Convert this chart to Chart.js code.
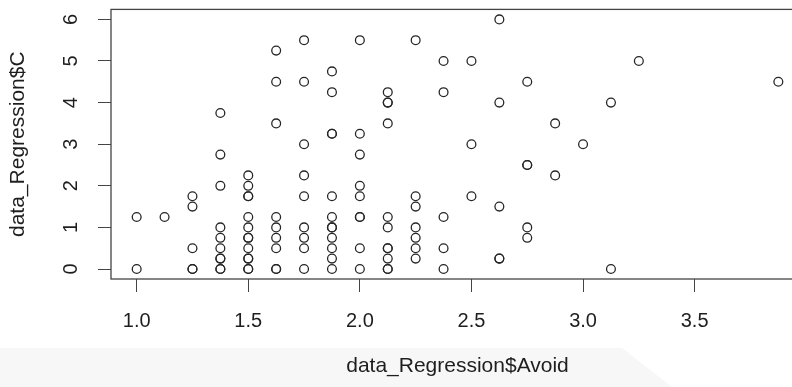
<!DOCTYPE html>
<html>
<head>
<meta charset="utf-8">
<script src="https://cdn.jsdelivr.net/npm/chart.js@4/dist/chart.umd.min.js"></script>
<style>
  html, body { margin: 0; padding: 0; background: #fff; overflow: hidden; }
  #wrap { width: 820px; height: 387px; }
</style>
</head>
<body>
<div id="wrap"><canvas id="scatter"></canvas></div>
<script>
// Avoid score (x) and C score (y), one entry per observation
const avoid = [
  1.0, 1.0,
  1.125,
  1.25, 1.25, 1.25, 1.25, 1.25,
  1.375, 1.375, 1.375, 1.375, 1.375, 1.375, 1.375, 1.375, 1.375, 1.375,
  1.5, 1.5, 1.5, 1.5, 1.5, 1.5, 1.5, 1.5, 1.5, 1.5, 1.5, 1.5, 1.5,
  1.625, 1.625, 1.625, 1.625, 1.625, 1.625, 1.625, 1.625, 1.625,
  1.75, 1.75, 1.75, 1.75, 1.75, 1.75, 1.75, 1.75, 1.75,
  1.875, 1.875, 1.875, 1.875, 1.875, 1.875, 1.875, 1.875, 1.875, 1.875, 1.875, 1.875,
  2.0, 2.0, 2.0, 2.0, 2.0, 2.0, 2.0, 2.0, 2.0,
  2.125, 2.125, 2.125, 2.125, 2.125, 2.125, 2.125, 2.125, 2.125, 2.125, 2.125,
  2.25, 2.25, 2.25, 2.25, 2.25, 2.25, 2.25,
  2.375, 2.375, 2.375, 2.375, 2.375,
  2.5, 2.5, 2.5,
  2.625, 2.625, 2.625, 2.625, 2.625,
  2.75, 2.75, 2.75, 2.75, 2.75,
  2.875, 2.875,
  3.0,
  3.125, 3.125,
  3.25,
  3.875
];
const cScore = [
  0, 1.25,
  1.25,
  0, 0, 0.5, 1.5, 1.75,
  0, 0, 0.25, 0.25, 0.5, 0.75, 1.0, 2.0, 2.75, 3.75,
  0, 0, 0.25, 0.25, 0.5, 0.75, 0.75, 1.0, 1.25, 1.75, 1.75, 2.0, 2.25,
  0, 0, 0.5, 0.75, 1.0, 1.25, 3.5, 4.5, 5.25,
  0, 0.5, 0.75, 1.0, 1.75, 2.25, 3.0, 4.5, 5.5,
  0, 0.25, 0.5, 0.75, 1.0, 1.0, 1.25, 1.75, 3.25, 3.25, 4.25, 4.75,
  0, 0.5, 1.25, 1.25, 1.75, 2.0, 2.75, 3.25, 5.5,
  0, 0, 0.25, 0.5, 0.5, 1.0, 1.25, 3.5, 4.0, 4.0, 4.25,
  0.25, 0.5, 0.75, 1.0, 1.5, 1.75, 5.5,
  0, 0.5, 1.25, 4.25, 5.0,
  1.75, 3.0, 5.0,
  0.25, 0.25, 1.5, 4.0, 6.0,
  0.75, 1.0, 2.5, 2.5, 4.5,
  2.25, 3.5,
  3.0,
  0, 4.0,
  5.0,
  4.5
];
const xTicks = [1.0, 1.5, 2.0, 2.5, 3.0, 3.5];
const yTicks = [0, 1, 2, 3, 4, 5, 6];
const xTitle = "data_Regression$Avoid";
const yTitle = "data_Regression$C";

const FONT = "'Liberation Sans', Arial, Helvetica, sans-serif";
const INK = "#444";
const TEXT = "#1e1e1e";

// base-graphics look: full box, rotated y labels, faint band at the bottom
const rStyle = {
  id: "rStyle",
  beforeDraw(chart) {
    const c = chart.ctx;
    c.save();
    c.fillStyle = "#f7f7f7";
    c.beginPath();
    c.moveTo(0, 348);
    c.lineTo(622, 348);
    c.lineTo(672, 387);
    c.lineTo(0, 387);
    c.closePath();
    c.fill();
    c.restore();
  },
  afterDraw(chart) {
    const c = chart.ctx;
    const a = chart.chartArea;
    c.save();
    c.strokeStyle = INK;
    c.lineWidth = 1.3;
    c.strokeRect(a.left, a.top, a.right - a.left, a.bottom - a.top);

    const y = chart.scales.y;
    c.fillStyle = TEXT;
    c.font = "20px " + FONT;
    c.textAlign = "center";
    c.textBaseline = "middle";
    y.ticks.forEach(t => {
      c.save();
      c.translate(71, y.getPixelForValue(t.value));
      c.rotate(-Math.PI / 2);
      c.fillText(String(t.value), 0, 0);
      c.restore();
    });
    c.restore();
  }
};

const points = avoid.map((v, i) => ({ x: v, y: cScore[i] }));

new Chart(document.getElementById("scatter"), {
  type: "scatter",
  data: {
    datasets: [{
      data: points,
      pointStyle: "circle",
      pointRadius: 4.4,
      pointHoverRadius: 4.4,
      pointBorderWidth: 1.3,
      pointBorderColor: "#262626",
      pointBackgroundColor: "rgba(0,0,0,0)"
    }]
  },
  options: {
    responsive: true,
    maintainAspectRatio: false,
    animation: false,
    events: [],
    layout: { padding: { left: 0, top: 9.4, right: 16, bottom: 0 } },
    plugins: { legend: { display: false }, tooltip: { enabled: false } },
    scales: {
      x: {
        type: "linear",
        min: 0.885,
        max: 3.99,
        afterBuildTicks: s => { s.ticks = xTicks.map(v => ({ value: v })); },
        afterFit: s => { s.height = 108; },
        ticks: {
          padding: 17,
          color: TEXT,
          font: { family: FONT, size: 20 },
          callback: v => Number(v).toFixed(1)
        },
        grid: { display: true, drawOnChartArea: false, drawTicks: true, tickLength: 13, color: INK, lineWidth: 1 },
        border: { display: false },
        title: {
          display: true,
          text: xTitle,
          color: TEXT,
          font: { family: FONT, size: 21 },
          padding: { top: 0, bottom: 8 }
        }
      },
      y: {
        type: "linear",
        min: -0.24,
        max: 6.24,
        afterBuildTicks: s => { s.ticks = yTicks.map(v => ({ value: v })); },
        afterFit: s => { s.width = 111; },
        ticks: { display: false },
        grid: { display: true, drawOnChartArea: false, drawTicks: true, tickLength: 13, color: INK, lineWidth: 1 },
        border: { display: false },
        title: {
          display: true,
          text: yTitle,
          color: TEXT,
          font: { family: FONT, size: 21 },
          padding: { top: 6, bottom: 0 }
        }
      }
    }
  },
  plugins: [rStyle]
});
</script>
</body>
</html>
